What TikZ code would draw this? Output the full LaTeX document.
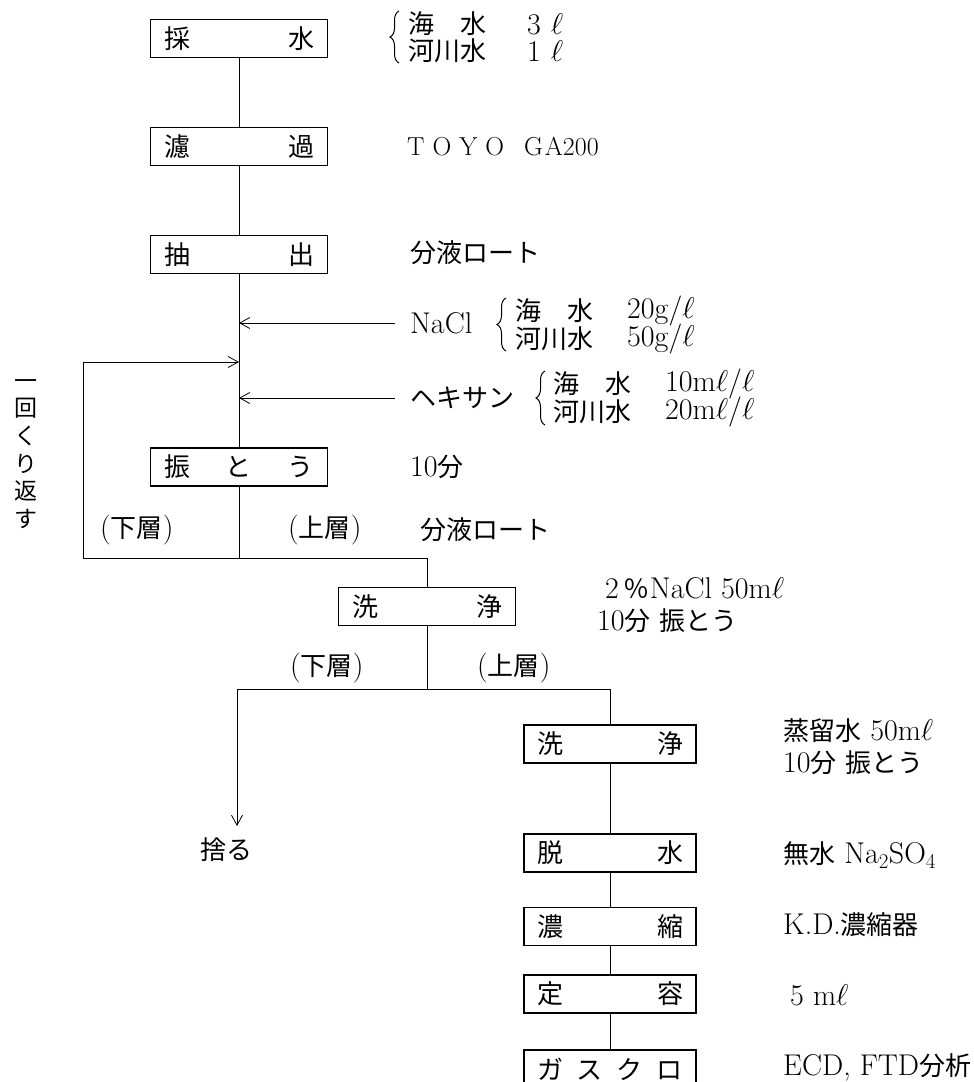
\RequirePackage{fix-cm}
\documentclass[tikz,border=0pt]{standalone}
\usepackage{fontspec}
\newfontfamily\jp{Noto Sans CJK JP}
\newcommand\J[1]{{\jp\fontsize{26}{30}\selectfont #1}}
\usetikzlibrary{arrows.meta,decorations.pathreplacing}
\begin{document}
\begin{tikzpicture}[x=1pt,y=-1pt,
  box/.style={draw,line width=1.2pt,minimum height=38pt,inner sep=0pt,font=\fontsize{26}{30}\selectfont},
  lbox/.style={box,minimum width=177pt},
  rbox/.style={box,minimum width=172pt},
  ln/.style={line width=0.9pt},
  arr/.style={ln,-{Straight Barb[length=10pt,width=11pt,line width=0.8pt]}},
  lbl/.style={anchor=west,inner sep=0pt,font=\fontsize{30}{34}\selectfont},
  brc/.style={line width=1pt,decorate,decoration={brace,amplitude=9pt,aspect=0.5}},
]
\useasboundingbox (0,0) rectangle (974,1082);
\clip (0,0) rectangle (974,1082);

% boxes
\node[lbox] (b1) at (239,38.5)  {\makebox[150pt]{\J{採}\hfill\J{水}}};
\node[lbox] (b2) at (239,146.5) {\makebox[150pt]{\J{濾}\hfill\J{過}}};
\node[lbox] (b3) at (239,254.5) {\makebox[150pt]{\J{抽}\hfill\J{出}}};
\node[lbox] (b4) at (239,467)   {\makebox[150pt]{\J{振}\hfill\J{と}\hfill\J{う}}};
\node[lbox] (b5) at (427,606.5) {\makebox[150pt]{\J{洗}\hfill\J{浄}}};
\node[rbox] (b6) at (610,744)   {\makebox[146pt]{\J{洗}\hfill\J{浄}}};
\node[rbox] (b7) at (610,853)   {\makebox[146pt]{\J{脱}\hfill\J{水}}};
\node[rbox] (b8) at (610,926.5) {\makebox[146pt]{\J{濃}\hfill\J{縮}}};
\node[rbox] (b9) at (610,994)   {\makebox[146pt]{\J{定}\hfill\J{容}}};
\node[rbox] (b10) at (610,1069) {\makebox[146pt]{\J{ガ}\hfill\J{ス}\hfill\J{ク}\hfill\J{ロ}}};

% coordinates
\coordinate (nacl) at (395,323);
\coordinate (hex) at (395,398);
\coordinate (bl) at (83,558);
\coordinate (loopt) at (83,362);
\coordinate (h2) at (237,689);
\coordinate (sute) at (237,826);

% main flow
\draw[ln] (b1) -- (b2);
\draw[ln] (b2) -- (b3);
\draw[ln] (b3) -- (b4);
\draw[arr] (nacl) -- (nacl -| b3);
\draw[arr] (hex) -- (hex -| b3);
\draw[arr] (bl) -- (loopt) -- (loopt -| b4);
\draw[ln] (b4) -- (b4 |- bl);
\draw[ln] (bl) -- (bl -| b5) -- (b5);
\draw[ln] (b5) -- (b5 |- h2);
\draw[ln] (h2) -- (h2 -| b6) -- (b6);
\draw[arr] (h2) -- (sute);
\draw[ln] (b6) -- (b7);
\draw[ln] (b7) -- (b8);
\draw[ln] (b8) -- (b9);
\draw[ln] (b9) -- (b10);

% top group
\coordinate (br1b) at (399,63);
\coordinate (br1t) at (399,11);
\draw[brc] (br1b) -- (br1t);
\node[lbl] (t1a) at (408,24) {\J{海　水}};
\node[lbl] (t1b) at (408,51) {\J{河川水}};
\node[lbl] (t1c) at (527,24) {3\hspace{10pt}$\ell$};
\node[lbl] (t1d) at (527,51) {1\hspace{10pt}$\ell$};

\node[lbl,font=\fontsize{26}{30}\selectfont] (toyo) at (407,147) {T\hspace{8pt}O\hspace{8pt}Y\hspace{8pt}O\hspace{20pt}G\hspace{2pt}A200};
\node[lbl] (bun1) at (410,253) {\J{分液ロート}};

% NaCl
\node[lbl] (nacllbl) at (410,323) {NaCl};
\coordinate (br2b) at (506,351);
\coordinate (br2t) at (506,298);
\draw[brc] (br2b) -- (br2t);
\node[lbl] (t2a) at (515,311) {\J{海　水}};
\node[lbl] (t2b) at (515,339) {\J{河川水}};
\node[lbl] (t2c) at (627,311) {20g/$\ell$};
\node[lbl] (t2d) at (627,339) {50g/$\ell$};

% hexane
\node[lbl] (hexlbl) at (410,398) {\J{ヘキサン}};
\coordinate (br3b) at (545,425);
\coordinate (br3t) at (545,371);
\draw[brc] (br3b) -- (br3t);
\node[lbl] (t3a) at (553,384) {\J{海　水}};
\node[lbl] (t3b) at (553,412) {\J{河川水}};
\node[lbl] (t3c) at (665,384) {10m$\ell$/$\ell$};
\node[lbl] (t3d) at (665,412) {20m$\ell$/$\ell$};

\node[lbl] (ten1) at (410,467) {10\J{分}};

% repeat
\node[inner sep=0pt,align=center,font=\fontsize{23}{27.6}\selectfont\jp] (rep) at (26,454) {一\\回\\く\\り\\返\\す};

% layers
\node[lbl] (ka1) at (100,530) {(\J{下層})};
\node[lbl] (jo1) at (288,530) {(\J{上層})};
\node[lbl] (bun2) at (420,530) {\J{分液ロート}};

\node[lbl] (w1a) at (597,588) {\hspace{8pt}2\,\J{％}NaCl 50m$\ell$};
\node[lbl] (w1b) at (597,621) {10\J{分} \J{振とう}};

\node[lbl] (ka2) at (290,668) {(\J{下層})};
\node[lbl] (jo2) at (477,668) {(\J{上層})};

\node[lbl] (sutel) at (200,850) {\J{捨る}};

\node[lbl] (w2a) at (783,731) {\J{蒸留水} 50m$\ell$};
\node[lbl] (w2b) at (783,763) {10\J{分} \J{振とう}};
\node[lbl] (dh) at (783,855) {\J{無水} Na$_2$SO$_4$};
\node[lbl] (kd) at (783,925) {K.D.\J{濃縮器}};
\node[lbl] (tv) at (790,995) {5 m$\ell$};
\node[lbl] (ecd) at (783,1067) {ECD, FTD\J{分析}};
\end{tikzpicture}
\end{document}
